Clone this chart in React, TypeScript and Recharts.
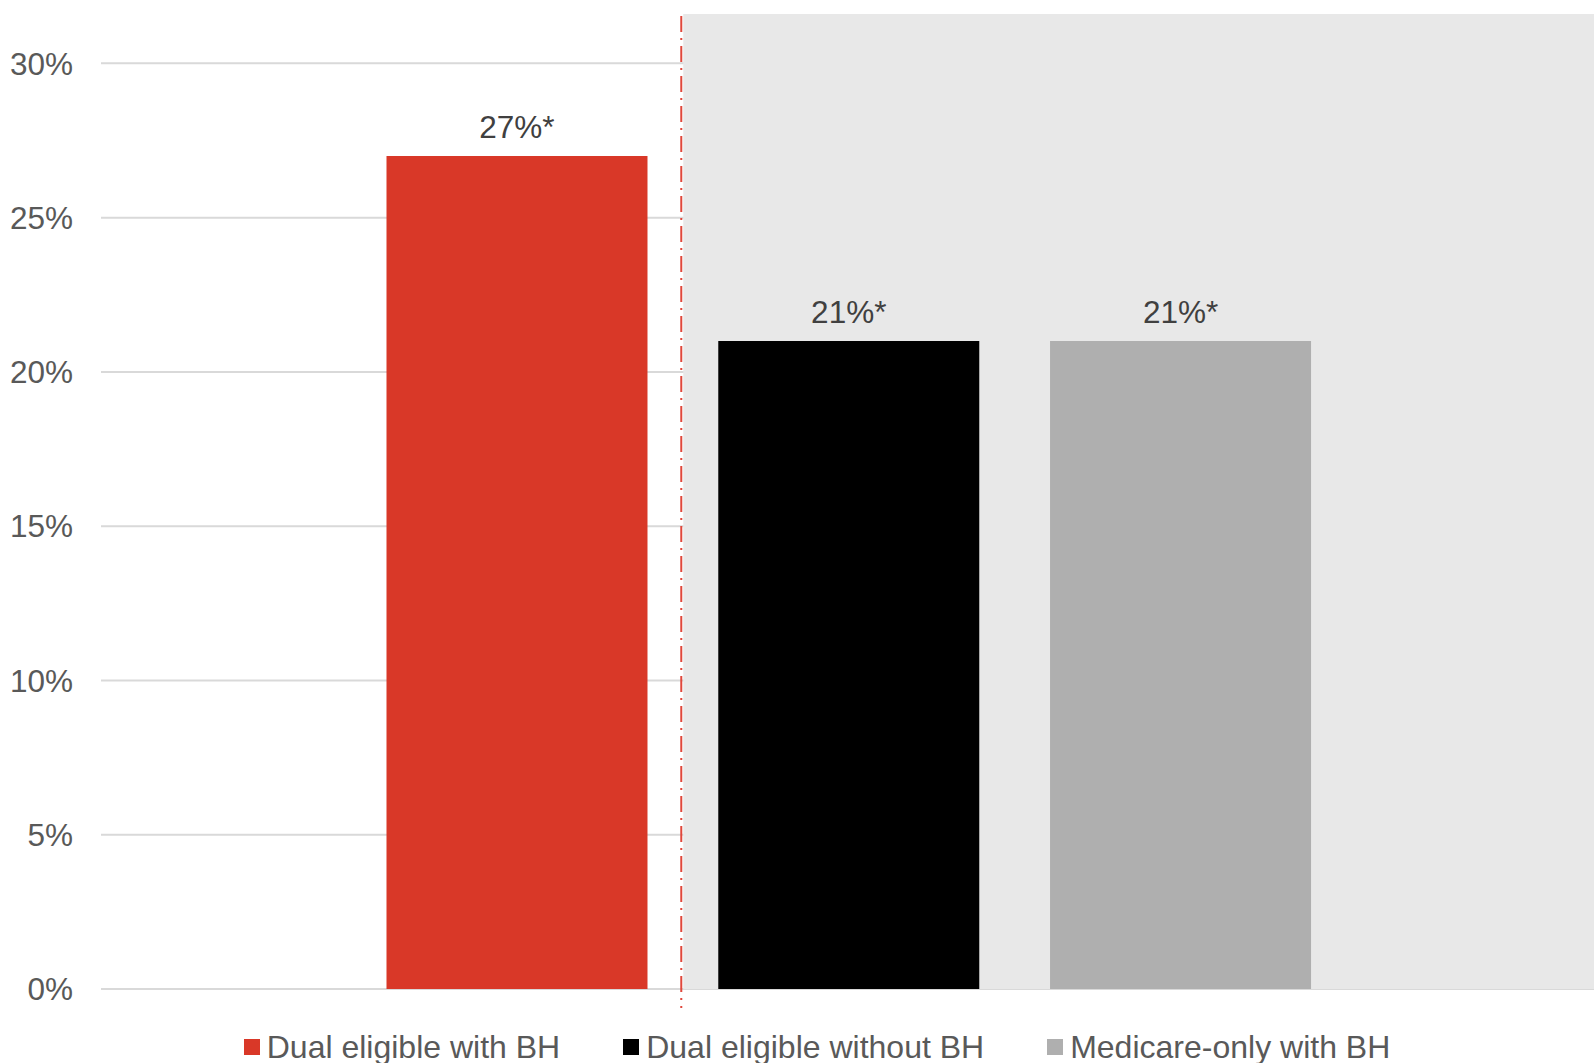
import React from 'react'
import { ComposedChart, Bar, Cell, XAxis, YAxis, CartesianGrid, ReferenceArea, ReferenceLine, LabelList, Legend } from 'recharts'

const groups = ['Dual eligible with BH', 'Dual eligible without BH', 'Medicare-only with BH']
const shares = [27, 21, 21]
const colors = ['#D93828', '#000000', '#AFAFAF']
const yTicks = [0, 5, 10, 15, 20, 25, 30]
const yMax = 31.6

const rows = groups.map((name, i) => ({ name, pos: i + 1, share: shares[i] }))

// comparison groups sit on the shaded side of the divider
const split = (rows[0].pos + rows[1].pos) / 2

const FONT = '"Liberation Sans", Arial, sans-serif'

// grid lines only at the labelled ticks, not at the top edge of the plot
const gridRows = ({ yAxis, offset }: any) => {
  if (yAxis && typeof yAxis.scale === 'function') return yTicks.map((t) => yAxis.scale(t))
  return yTicks.map((t) => offset.top + offset.height * (1 - t / yMax))
}

const Divider = (p: any) => {
  const top = Math.min(p.y1, p.y2)
  const bottom = Math.max(p.y1, p.y2)
  return (
    <line
      x1={p.x1 - 2}
      x2={p.x2 - 2}
      y1={top + 2}
      y2={bottom + 19}
      stroke="#E0483C"
      strokeWidth={2}
      strokeDasharray="16 6 2 6"
    />
  )
}

const GroupLegend = () => (
  <div
    style={{
      display: 'flex',
      justifyContent: 'center',
      alignItems: 'center',
      height: 74,
      paddingTop: 41,
      paddingLeft: 40,
      boxSizing: 'border-box',
      gap: 63,
    }}
  >
    {groups.map((g, i) => (
      <div key={g} style={{ display: 'flex', alignItems: 'center', gap: 7 }}>
        <div style={{ width: 16, height: 16, background: colors[i] }} />
        <span style={{ color: '#595959', fontSize: 32, lineHeight: '32px' }}>{g}</span>
      </div>
    ))}
  </div>
)

export default function App() {
  return (
    <div style={{ position: 'absolute', left: 0, top: 0, width: 1594, height: 1063, background: '#fff', fontFamily: FONT }}>
      <ComposedChart width={1594} height={1063} data={rows} margin={{ top: 14, right: 0, bottom: 0, left: 0 }}>
        <ReferenceArea x1={split} fill="#E8E8E8" fillOpacity={1} stroke="none" />
        <CartesianGrid vertical={false} stroke="#D9D9D9" strokeWidth={2} horizontalCoordinatesGenerator={gridRows} />
        <XAxis dataKey="pos" type="number" domain={[-0.255, 4.245]} hide />
        <YAxis
          domain={[0, yMax]}
          ticks={yTicks}
          tickFormatter={(v: number) => `${v}%`}
          width={101}
          axisLine={false}
          tickLine={false}
          tickSize={0}
          tickMargin={28}
          tick={{ fill: '#595959', fontSize: 31.5, fontFamily: FONT }}
        />
        <ReferenceLine x={split} shape={Divider} />
        <Bar dataKey="share" barSize={261} isAnimationActive={false}>
          {rows.map((r, i) => (
            <Cell key={r.name} fill={colors[i]} />
          ))}
          <LabelList
            dataKey="share"
            position="top"
            offset={18}
            formatter={(v: any) => `${v}%*`}
            fill="#404040"
            fontSize={31.5}
            fontFamily={FONT}
          />
        </Bar>
        <Legend verticalAlign="bottom" content={<GroupLegend />} />
      </ComposedChart>
    </div>
  )
}
